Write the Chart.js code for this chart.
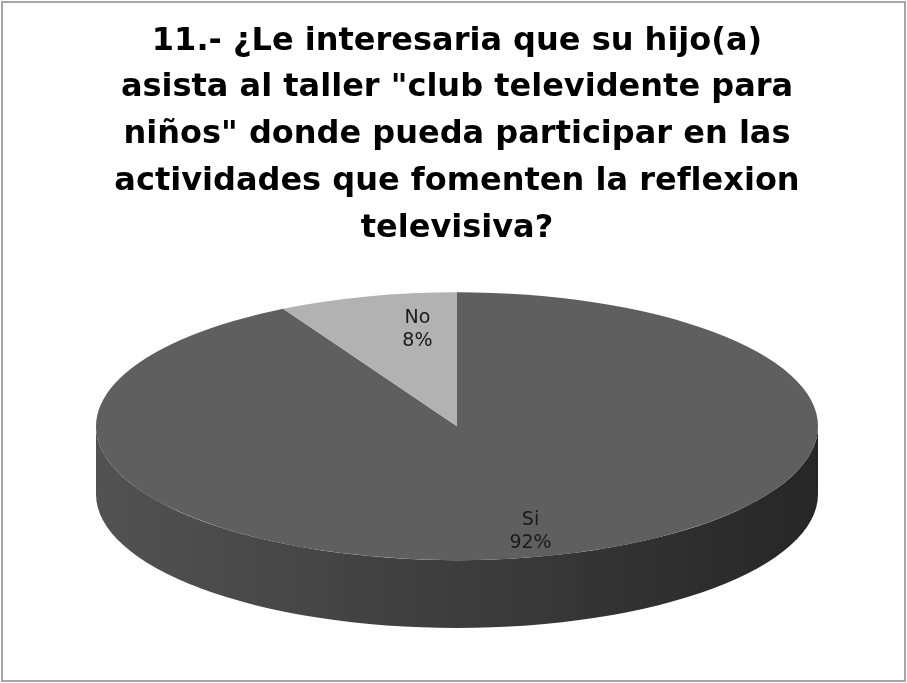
<!DOCTYPE html>
<html>
<head>
<meta charset="utf-8">
<title>Pregunta 11</title>
<script src="https://cdn.jsdelivr.net/npm/chart.js@4.4.1/dist/chart.umd.min.js"></script>
<style>
  html, body { margin: 0; padding: 0; background: #fff; }
  #grafico { display: block; }
</style>
</head>
<body>
<canvas id="grafico" width="907" height="683"></canvas>
<script>
// Datos de la pregunta 11
var categorias = ['Si', 'No'];
var porcentajes = [92, 8];
var colores = ['#5f5f5f', '#b2b2b2'];
// el \u200C evita la ligadura "fl" de la fuente
var tituloLineas = [
    '11.- ¿Le interesaria que su hijo(a)',
    'asista al taller "club televidente para',
    'niños" donde pueda participar en las',
    'actividades que fomenten la ref\u200Clexion',
    'televisiva?'
];

/**
 * Oscurece un color hex por un factor
 */
function sombra(hex, f) {
    var n = parseInt(hex.slice(1), 16);
    var r = Math.round(((n >> 16) & 255) * f);
    var g = Math.round(((n >> 8) & 255) * f);
    var b = Math.round((n & 255) * f);
    return 'rgb(' + r + ',' + g + ',' + b + ')';
}

/**
 * Geometria de la elipse superior a partir del area del grafico
 */
function geometria(chart, opts) {
    var a = chart.chartArea;
    var rx = (a.right - a.left) / 2;
    var ry = rx * opts.inclinacion;
    var grosor = rx * opts.grosor;
    return {
        cx: (a.left + a.right) / 2,
        cy: a.bottom - grosor - ry,
        rx: rx,
        ry: ry,
        grosor: grosor
    };
}

// Plugin que aplana el pastel y le dibuja el costado (efecto 3D)
var pastel3d = {
    id: 'pastel3d',
    beforeDraw: function (chart) {
        var ctx = chart.ctx;
        ctx.save();
        ctx.fillStyle = '#ffffff';
        ctx.fillRect(0, 0, chart.width, chart.height);
        ctx.strokeStyle = '#a6a6a6';
        ctx.lineWidth = 2;
        ctx.strokeRect(2, 2, chart.width - 4, chart.height - 4);
        ctx.restore();
    },
    beforeDatasetsDraw: function (chart, args, opts) {
        var ctx = chart.ctx;
        var g = geometria(chart, opts);
        var arcos = chart.getDatasetMeta(0).data;
        var dosPi = Math.PI * 2;

        // costado visible: angulos entre 0 y PI (mitad frontal)
        arcos.forEach(function (arc, i) {
            var p = arc.getProps(['startAngle', 'endAngle'], true);
            var color = chart.data.datasets[0].backgroundColor[i];
            var grad = ctx.createLinearGradient(g.cx - g.rx, 0, g.cx + g.rx, 0);
            grad.addColorStop(0, sombra(color, 0.86));
            grad.addColorStop(0.5, sombra(color, 0.64));
            grad.addColorStop(1, sombra(color, 0.4));
            for (var k = -1; k <= 1; k++) {
                var a0 = Math.max(p.startAngle, k * dosPi);
                var a1 = Math.min(p.endAngle, k * dosPi + Math.PI);
                if (a1 <= a0) continue;
                ctx.beginPath();
                ctx.ellipse(g.cx, g.cy, g.rx, g.ry, 0, a0, a1, false);
                ctx.ellipse(g.cx, g.cy + g.grosor, g.rx, g.ry, 0, a1, a0, true);
                ctx.closePath();
                ctx.fillStyle = grad;
                ctx.fill();
            }
        });

        // la cara superior se dibuja aplastada en una elipse
        var ref = arcos[0];
        ctx.save();
        ctx.translate(g.cx, g.cy);
        ctx.scale(g.rx / ref.outerRadius, g.ry / ref.outerRadius);
        ctx.translate(-ref.x, -ref.y);
    },
    afterDatasetsDraw: function (chart, args, opts) {
        var ctx = chart.ctx;
        ctx.restore();

        var g = geometria(chart, opts);
        var arcos = chart.getDatasetMeta(0).data;
        var total = porcentajes.reduce(function (s, v) { return s + v; }, 0);

        ctx.save();
        ctx.font = '19px "DejaVu Sans"';
        ctx.fillStyle = '#1a1a1a';
        ctx.textAlign = 'center';
        ctx.textBaseline = 'middle';
        arcos.forEach(function (arc, i) {
            var p = arc.getProps(['startAngle', 'endAngle'], true);
            var medio = (p.startAngle + p.endAngle) / 2;
            var s = Math.sin(medio);
            // lo que esta al frente se ve mas ancho y mas bajo (perspectiva)
            var fx = opts.posEtiqueta * (1 + 0.31 * s);
            var fy = 0.777 * (1 + 0.044 * s);
            var x = g.cx + g.rx * fx * Math.cos(medio);
            var y = g.cy + g.ry * fy * s;
            var pct = Math.round(porcentajes[i] / total * 100) + '%';
            ctx.fillText(categorias[i], x, y - 11.5);
            ctx.fillText(pct, x, y + 11.5);
        });
        ctx.restore();
    }
};

var chart = new Chart(document.getElementById('grafico'), {
    type: 'pie',
    data: {
        labels: categorias,
        datasets: [{
            data: porcentajes,
            backgroundColor: colores,
            borderWidth: 0,
            clip: false
        }]
    },
    options: {
        responsive: false,
        animation: false,
        events: [],
        layout: {
            padding: { left: 96, right: 89, top: 0, bottom: 55 }
        },
        plugins: {
            legend: { display: false },
            tooltip: { enabled: false },
            title: {
                display: true,
                text: tituloLineas,
                color: '#000',
                font: { family: '"DejaVu Sans"', size: 32, weight: 'bold', lineHeight: 1.46 },
                padding: { top: 18, bottom: 10 }
            },
            pastel3d: {
                inclinacion: 0.371,
                grosor: 0.188,
                posEtiqueta: 0.63
            }
        }
    },
    plugins: [pastel3d]
});
</script>
</body>
</html>
